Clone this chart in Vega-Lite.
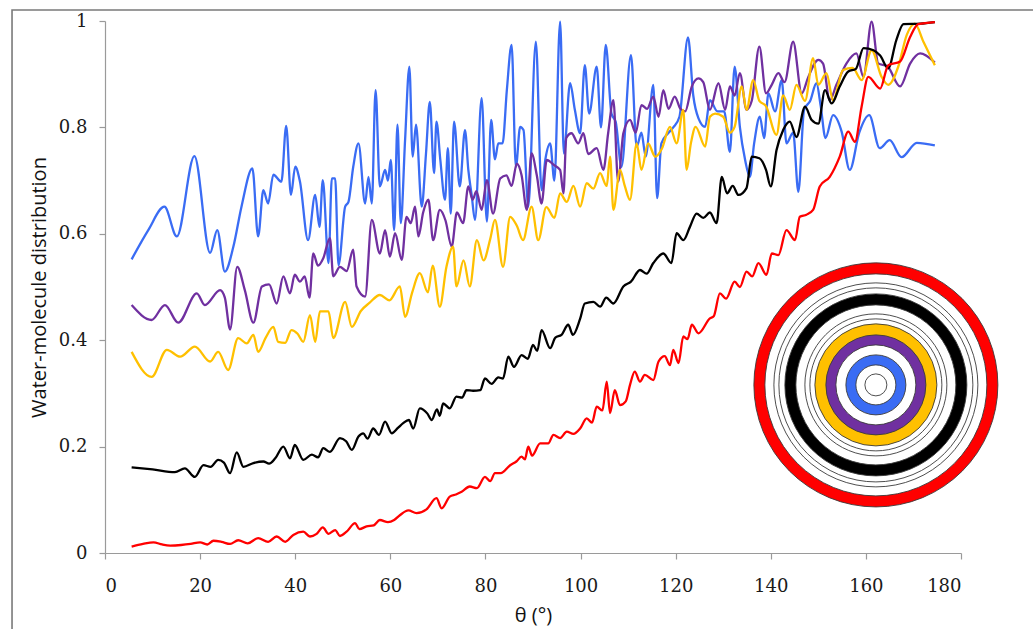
{
 "$schema": "https://vega.github.io/schema/vega-lite/v6.json",
 "width": 856, "height": 532,
 "autosize": {"type": "none"},
 "padding": {"left": 105, "top": 21, "right": 72, "bottom": 76},
 "background": "white",
 "config": {
  "view": {"stroke": null},
  "axis": {"grid": false, "domainColor": "#9a9a9a", "tickColor": "#9a9a9a", "domainWidth": 1.2, "tickWidth": 1.2, "tickSize": 6,
           "labelFont": "DejaVu Serif", "labelFontSize": 18, "labelColor": "#1a1a1a",
           "titleFont": "Open Sans", "titleFontSize": 20, "titleFontWeight": "normal", "titleColor": "#111"},
  "axisX": {"labelPadding": 18, "titlePadding": 10, "titleFontSize": 20},
  "axisY": {"labelPadding": 12, "titlePadding": 9}
 },
 "layer": [
  {
   "data": {"values": [{"frame": "outer border"}]},
   "mark": {"type": "rect", "fill": "white", "fillOpacity": 0, "stroke": "#7a7a7a", "strokeWidth": 1.6},
   "encoding": {
    "x": {"datum": -19.55, "type": "quantitative", "scale": {"domain": [0, 180]}},
    "x2": {"datum": 197},
    "y": {"datum": 1.0207, "type": "quantitative", "scale": {"domain": [0, 1]}},
    "y2": {"datum": -0.17}
   }
  },
  {
   "data": {"values": [
{"s":"ring1","x":5.6,"y":0.552},{"s":"ring1","x":9.1,"y":0.607},{"s":"ring1","x":12.5,"y":0.651},{"s":"ring1","x":15.1,"y":0.595},{"s":"ring1","x":18.8,"y":0.746},{"s":"ring1","x":22.1,"y":0.564},{"s":"ring1","x":23.6,"y":0.607},{"s":"ring1","x":25.2,"y":0.529},{"s":"ring1","x":27.0,"y":0.576},{"s":"ring1","x":28.7,"y":0.651},{"s":"ring1","x":31.0,"y":0.723},{"s":"ring1","x":32.2,"y":0.595},{"s":"ring1","x":33.3,"y":0.682},{"s":"ring1","x":34.3,"y":0.657},{"s":"ring1","x":35.4,"y":0.711},{"s":"ring1","x":37.1,"y":0.698},{"s":"ring1","x":38.1,"y":0.803},{"s":"ring1","x":39.1,"y":0.673},{"s":"ring1","x":40.0,"y":0.726},{"s":"ring1","x":41.0,"y":0.698},{"s":"ring1","x":42.7,"y":0.588},{"s":"ring1","x":44.2,"y":0.673},{"s":"ring1","x":45.1,"y":0.613},{"s":"ring1","x":45.8,"y":0.701},{"s":"ring1","x":47.0,"y":0.545},{"s":"ring1","x":47.7,"y":0.704},{"s":"ring1","x":48.4,"y":0.704},{"s":"ring1","x":49.1,"y":0.541},{"s":"ring1","x":50.5,"y":0.651},{"s":"ring1","x":51.2,"y":0.660},{"s":"ring1","x":52.2,"y":0.726},{"s":"ring1","x":53.3,"y":0.770},{"s":"ring1","x":54.7,"y":0.657},{"s":"ring1","x":55.4,"y":0.707},{"s":"ring1","x":56.1,"y":0.657},{"s":"ring1","x":56.9,"y":0.870},{"s":"ring1","x":57.8,"y":0.689},{"s":"ring1","x":58.9,"y":0.720},{"s":"ring1","x":59.5,"y":0.700},{"s":"ring1","x":60.1,"y":0.739},{"s":"ring1","x":60.8,"y":0.607},{"s":"ring1","x":61.5,"y":0.805},{"s":"ring1","x":62.2,"y":0.620},{"s":"ring1","x":63.1,"y":0.776},{"s":"ring1","x":64.0,"y":0.914},{"s":"ring1","x":64.7,"y":0.745},{"s":"ring1","x":65.4,"y":0.805},{"s":"ring1","x":66.6,"y":0.651},{"s":"ring1","x":67.5,"y":0.751},{"s":"ring1","x":68.3,"y":0.848},{"s":"ring1","x":69.2,"y":0.714},{"s":"ring1","x":69.7,"y":0.811},{"s":"ring1","x":70.5,"y":0.740},{"s":"ring1","x":71.5,"y":0.664},{"s":"ring1","x":72.1,"y":0.761},{"s":"ring1","x":72.7,"y":0.638},{"s":"ring1","x":73.4,"y":0.811},{"s":"ring1","x":74.6,"y":0.689},{"s":"ring1","x":75.7,"y":0.795},{"s":"ring1","x":76.4,"y":0.720},{"s":"ring1","x":77.1,"y":0.673},{"s":"ring1","x":77.8,"y":0.626},{"s":"ring1","x":79.2,"y":0.855},{"s":"ring1","x":80.3,"y":0.623},{"s":"ring1","x":81.2,"y":0.814},{"s":"ring1","x":82.0,"y":0.740},{"s":"ring1","x":82.7,"y":0.770},{"s":"ring1","x":83.6,"y":0.770},{"s":"ring1","x":84.5,"y":0.870},{"s":"ring1","x":85.5,"y":0.955},{"s":"ring1","x":86.4,"y":0.726},{"s":"ring1","x":87.3,"y":0.801},{"s":"ring1","x":88.0,"y":0.795},{"s":"ring1","x":89.0,"y":0.651},{"s":"ring1","x":90.6,"y":0.961},{"s":"ring1","x":91.8,"y":0.682},{"s":"ring1","x":92.6,"y":0.740},{"s":"ring1","x":93.6,"y":0.770},{"s":"ring1","x":94.5,"y":0.700},{"s":"ring1","x":95.7,"y":0.999},{"s":"ring1","x":96.5,"y":0.751},{"s":"ring1","x":97.8,"y":0.883},{"s":"ring1","x":98.8,"y":0.833},{"s":"ring1","x":99.9,"y":0.789},{"s":"ring1","x":100.9,"y":0.917},{"s":"ring1","x":101.8,"y":0.826},{"s":"ring1","x":103.4,"y":0.914},{"s":"ring1","x":104.3,"y":0.800},{"s":"ring1","x":105.3,"y":0.955},{"s":"ring1","x":106.5,"y":0.826},{"s":"ring1","x":107.4,"y":0.810},{"s":"ring1","x":108.6,"y":0.726},{"s":"ring1","x":110.6,"y":0.936},{"s":"ring1","x":111.8,"y":0.764},{"s":"ring1","x":112.8,"y":0.790},{"s":"ring1","x":113.7,"y":0.745},{"s":"ring1","x":115.3,"y":0.880},{"s":"ring1","x":116.1,"y":0.667},{"s":"ring1","x":117.0,"y":0.770},{"s":"ring1","x":118.4,"y":0.789},{"s":"ring1","x":119.5,"y":0.800},{"s":"ring1","x":120.8,"y":0.820},{"s":"ring1","x":122.6,"y":0.969},{"s":"ring1","x":123.7,"y":0.860},{"s":"ring1","x":124.8,"y":0.817},{"s":"ring1","x":126.2,"y":0.801},{"s":"ring1","x":127.2,"y":0.851},{"s":"ring1","x":128.8,"y":0.830},{"s":"ring1","x":130.2,"y":0.830},{"s":"ring1","x":131.4,"y":0.754},{"s":"ring1","x":132.4,"y":0.914},{"s":"ring1","x":133.5,"y":0.801},{"s":"ring1","x":134.6,"y":0.739},{"s":"ring1","x":135.6,"y":0.707},{"s":"ring1","x":136.5,"y":0.770},{"s":"ring1","x":137.7,"y":0.820},{"s":"ring1","x":138.6,"y":0.780},{"s":"ring1","x":139.5,"y":0.864},{"s":"ring1","x":140.9,"y":0.830},{"s":"ring1","x":142.3,"y":0.889},{"s":"ring1","x":143.3,"y":0.770},{"s":"ring1","x":144.7,"y":0.790},{"s":"ring1","x":145.8,"y":0.679},{"s":"ring1","x":147.0,"y":0.833},{"s":"ring1","x":148.3,"y":0.850},{"s":"ring1","x":149.6,"y":0.883},{"s":"ring1","x":150.5,"y":0.840},{"s":"ring1","x":151.5,"y":0.780},{"s":"ring1","x":153.1,"y":0.823},{"s":"ring1","x":154.9,"y":0.792},{"s":"ring1","x":156.6,"y":0.720},{"s":"ring1","x":158.6,"y":0.790},{"s":"ring1","x":160.7,"y":0.823},{"s":"ring1","x":162.9,"y":0.761},{"s":"ring1","x":165.0,"y":0.776},{"s":"ring1","x":167.5,"y":0.744},{"s":"ring1","x":170.7,"y":0.771},{"s":"ring1","x":174.5,"y":0.766},
{"s":"ring2","x":5.6,"y":0.466},{"s":"ring2","x":9.8,"y":0.438},{"s":"ring2","x":12.6,"y":0.466},{"s":"ring2","x":15.4,"y":0.433},{"s":"ring2","x":19.3,"y":0.488},{"s":"ring2","x":21.0,"y":0.466},{"s":"ring2","x":24.2,"y":0.494},{"s":"ring2","x":25.2,"y":0.480},{"s":"ring2","x":26.3,"y":0.420},{"s":"ring2","x":27.8,"y":0.538},{"s":"ring2","x":29.4,"y":0.494},{"s":"ring2","x":31.2,"y":0.433},{"s":"ring2","x":33.0,"y":0.501},{"s":"ring2","x":34.5,"y":0.505},{"s":"ring2","x":36.1,"y":0.469},{"s":"ring2","x":37.5,"y":0.520},{"s":"ring2","x":38.9,"y":0.488},{"s":"ring2","x":39.9,"y":0.523},{"s":"ring2","x":41.0,"y":0.510},{"s":"ring2","x":42.0,"y":0.520},{"s":"ring2","x":43.0,"y":0.480},{"s":"ring2","x":43.8,"y":0.563},{"s":"ring2","x":44.8,"y":0.540},{"s":"ring2","x":45.9,"y":0.554},{"s":"ring2","x":47.3,"y":0.592},{"s":"ring2","x":48.0,"y":0.520},{"s":"ring2","x":49.4,"y":0.538},{"s":"ring2","x":50.8,"y":0.530},{"s":"ring2","x":52.2,"y":0.570},{"s":"ring2","x":52.9,"y":0.501},{"s":"ring2","x":54.7,"y":0.482},{"s":"ring2","x":56.1,"y":0.626},{"s":"ring2","x":57.8,"y":0.563},{"s":"ring2","x":58.9,"y":0.607},{"s":"ring2","x":59.9,"y":0.557},{"s":"ring2","x":61.0,"y":0.601},{"s":"ring2","x":62.4,"y":0.551},{"s":"ring2","x":63.4,"y":0.632},{"s":"ring2","x":64.3,"y":0.620},{"s":"ring2","x":65.2,"y":0.651},{"s":"ring2","x":65.9,"y":0.595},{"s":"ring2","x":66.9,"y":0.640},{"s":"ring2","x":68.0,"y":0.664},{"s":"ring2","x":69.0,"y":0.588},{"s":"ring2","x":70.4,"y":0.645},{"s":"ring2","x":71.6,"y":0.625},{"s":"ring2","x":72.9,"y":0.576},{"s":"ring2","x":74.0,"y":0.640},{"s":"ring2","x":75.3,"y":0.620},{"s":"ring2","x":76.4,"y":0.689},{"s":"ring2","x":77.3,"y":0.664},{"s":"ring2","x":78.1,"y":0.680},{"s":"ring2","x":79.2,"y":0.645},{"s":"ring2","x":80.3,"y":0.701},{"s":"ring2","x":81.6,"y":0.638},{"s":"ring2","x":83.1,"y":0.704},{"s":"ring2","x":84.4,"y":0.710},{"s":"ring2","x":85.5,"y":0.690},{"s":"ring2","x":86.6,"y":0.732},{"s":"ring2","x":87.6,"y":0.710},{"s":"ring2","x":88.7,"y":0.645},{"s":"ring2","x":89.7,"y":0.751},{"s":"ring2","x":90.8,"y":0.710},{"s":"ring2","x":91.8,"y":0.657},{"s":"ring2","x":92.9,"y":0.739},{"s":"ring2","x":94.3,"y":0.730},{"s":"ring2","x":95.7,"y":0.720},{"s":"ring2","x":96.4,"y":0.676},{"s":"ring2","x":97.0,"y":0.780},{"s":"ring2","x":98.1,"y":0.789},{"s":"ring2","x":99.5,"y":0.770},{"s":"ring2","x":100.6,"y":0.789},{"s":"ring2","x":101.6,"y":0.750},{"s":"ring2","x":103.4,"y":0.761},{"s":"ring2","x":104.8,"y":0.720},{"s":"ring2","x":105.8,"y":0.789},{"s":"ring2","x":106.9,"y":0.851},{"s":"ring2","x":107.9,"y":0.698},{"s":"ring2","x":109.0,"y":0.789},{"s":"ring2","x":110.4,"y":0.814},{"s":"ring2","x":111.6,"y":0.790},{"s":"ring2","x":112.8,"y":0.842},{"s":"ring2","x":114.0,"y":0.835},{"s":"ring2","x":115.3,"y":0.858},{"s":"ring2","x":116.4,"y":0.820},{"s":"ring2","x":117.4,"y":0.870},{"s":"ring2","x":118.5,"y":0.835},{"s":"ring2","x":119.8,"y":0.858},{"s":"ring2","x":121.0,"y":0.835},{"s":"ring2","x":122.0,"y":0.830},{"s":"ring2","x":123.4,"y":0.877},{"s":"ring2","x":124.8,"y":0.892},{"s":"ring2","x":125.8,"y":0.885},{"s":"ring2","x":127.2,"y":0.833},{"s":"ring2","x":129.0,"y":0.883},{"s":"ring2","x":130.4,"y":0.833},{"s":"ring2","x":131.4,"y":0.877},{"s":"ring2","x":132.4,"y":0.860},{"s":"ring2","x":133.5,"y":0.902},{"s":"ring2","x":134.9,"y":0.833},{"s":"ring2","x":136.0,"y":0.850},{"s":"ring2","x":137.6,"y":0.952},{"s":"ring2","x":139.0,"y":0.864},{"s":"ring2","x":140.2,"y":0.880},{"s":"ring2","x":141.6,"y":0.902},{"s":"ring2","x":142.9,"y":0.885},{"s":"ring2","x":144.7,"y":0.961},{"s":"ring2","x":146.5,"y":0.864},{"s":"ring2","x":147.9,"y":0.895},{"s":"ring2","x":150.0,"y":0.927},{"s":"ring2","x":151.0,"y":0.920},{"s":"ring2","x":152.4,"y":0.851},{"s":"ring2","x":153.8,"y":0.880},{"s":"ring2","x":155.9,"y":0.920},{"s":"ring2","x":158.0,"y":0.939},{"s":"ring2","x":159.5,"y":0.895},{"s":"ring2","x":161.2,"y":0.999},{"s":"ring2","x":162.6,"y":0.920},{"s":"ring2","x":164.5,"y":0.915},{"s":"ring2","x":167.2,"y":0.877},{"s":"ring2","x":169.3,"y":0.920},{"s":"ring2","x":171.4,"y":0.939},{"s":"ring2","x":174.5,"y":0.922},
{"s":"ring3","x":5.6,"y":0.378},{"s":"ring3","x":9.8,"y":0.331},{"s":"ring3","x":13.0,"y":0.382},{"s":"ring3","x":15.8,"y":0.369},{"s":"ring3","x":18.9,"y":0.388},{"s":"ring3","x":22.1,"y":0.360},{"s":"ring3","x":23.8,"y":0.378},{"s":"ring3","x":25.9,"y":0.344},{"s":"ring3","x":28.0,"y":0.404},{"s":"ring3","x":29.8,"y":0.394},{"s":"ring3","x":31.2,"y":0.410},{"s":"ring3","x":32.2,"y":0.378},{"s":"ring3","x":33.8,"y":0.405},{"s":"ring3","x":35.4,"y":0.425},{"s":"ring3","x":36.4,"y":0.397},{"s":"ring3","x":37.9,"y":0.395},{"s":"ring3","x":39.2,"y":0.419},{"s":"ring3","x":40.5,"y":0.412},{"s":"ring3","x":41.7,"y":0.397},{"s":"ring3","x":43.1,"y":0.447},{"s":"ring3","x":44.2,"y":0.397},{"s":"ring3","x":45.2,"y":0.454},{"s":"ring3","x":47.0,"y":0.454},{"s":"ring3","x":48.0,"y":0.404},{"s":"ring3","x":50.5,"y":0.472},{"s":"ring3","x":51.9,"y":0.425},{"s":"ring3","x":53.8,"y":0.455},{"s":"ring3","x":55.6,"y":0.470},{"s":"ring3","x":57.8,"y":0.485},{"s":"ring3","x":59.8,"y":0.475},{"s":"ring3","x":62.0,"y":0.501},{"s":"ring3","x":63.1,"y":0.444},{"s":"ring3","x":64.6,"y":0.490},{"s":"ring3","x":66.2,"y":0.526},{"s":"ring3","x":67.9,"y":0.490},{"s":"ring3","x":68.9,"y":0.540},{"s":"ring3","x":70.4,"y":0.463},{"s":"ring3","x":71.8,"y":0.538},{"s":"ring3","x":73.2,"y":0.576},{"s":"ring3","x":73.9,"y":0.501},{"s":"ring3","x":75.4,"y":0.550},{"s":"ring3","x":76.7,"y":0.501},{"s":"ring3","x":78.2,"y":0.588},{"s":"ring3","x":79.6,"y":0.550},{"s":"ring3","x":81.0,"y":0.590},{"s":"ring3","x":82.0,"y":0.626},{"s":"ring3","x":83.7,"y":0.538},{"s":"ring3","x":85.2,"y":0.632},{"s":"ring3","x":86.6,"y":0.615},{"s":"ring3","x":87.9,"y":0.588},{"s":"ring3","x":89.7,"y":0.651},{"s":"ring3","x":91.1,"y":0.588},{"s":"ring3","x":92.8,"y":0.650},{"s":"ring3","x":94.5,"y":0.630},{"s":"ring3","x":95.7,"y":0.676},{"s":"ring3","x":97.1,"y":0.660},{"s":"ring3","x":98.5,"y":0.690},{"s":"ring3","x":99.9,"y":0.651},{"s":"ring3","x":101.3,"y":0.695},{"s":"ring3","x":102.7,"y":0.685},{"s":"ring3","x":104.1,"y":0.714},{"s":"ring3","x":105.5,"y":0.690},{"s":"ring3","x":106.2,"y":0.745},{"s":"ring3","x":106.9,"y":0.645},{"s":"ring3","x":108.3,"y":0.720},{"s":"ring3","x":109.3,"y":0.690},{"s":"ring3","x":110.4,"y":0.664},{"s":"ring3","x":111.8,"y":0.770},{"s":"ring3","x":112.8,"y":0.720},{"s":"ring3","x":114.2,"y":0.770},{"s":"ring3","x":115.7,"y":0.745},{"s":"ring3","x":117.1,"y":0.760},{"s":"ring3","x":118.8,"y":0.801},{"s":"ring3","x":120.2,"y":0.770},{"s":"ring3","x":121.6,"y":0.833},{"s":"ring3","x":122.3,"y":0.720},{"s":"ring3","x":123.2,"y":0.770},{"s":"ring3","x":124.2,"y":0.801},{"s":"ring3","x":126.2,"y":0.764},{"s":"ring3","x":127.2,"y":0.820},{"s":"ring3","x":128.3,"y":0.826},{"s":"ring3","x":130.0,"y":0.820},{"s":"ring3","x":131.4,"y":0.790},{"s":"ring3","x":132.4,"y":0.801},{"s":"ring3","x":133.9,"y":0.877},{"s":"ring3","x":134.9,"y":0.833},{"s":"ring3","x":136.3,"y":0.889},{"s":"ring3","x":137.6,"y":0.850},{"s":"ring3","x":139.0,"y":0.840},{"s":"ring3","x":141.2,"y":0.786},{"s":"ring3","x":142.6,"y":0.860},{"s":"ring3","x":144.0,"y":0.833},{"s":"ring3","x":145.4,"y":0.880},{"s":"ring3","x":147.2,"y":0.850},{"s":"ring3","x":148.9,"y":0.930},{"s":"ring3","x":150.0,"y":0.880},{"s":"ring3","x":151.7,"y":0.902},{"s":"ring3","x":153.1,"y":0.851},{"s":"ring3","x":155.2,"y":0.908},{"s":"ring3","x":157.2,"y":0.912},{"s":"ring3","x":159.1,"y":0.889},{"s":"ring3","x":161.2,"y":0.945},{"s":"ring3","x":163.3,"y":0.895},{"s":"ring3","x":164.7,"y":0.880},{"s":"ring3","x":166.8,"y":0.914},{"s":"ring3","x":168.6,"y":0.974},{"s":"ring3","x":170.3,"y":0.995},{"s":"ring3","x":172.1,"y":0.961},{"s":"ring3","x":174.5,"y":0.917},
{"s":"ring4","x":5.6,"y":0.161},{"s":"ring4","x":10.0,"y":0.157},{"s":"ring4","x":14.7,"y":0.152},{"s":"ring4","x":16.8,"y":0.159},{"s":"ring4","x":18.9,"y":0.143},{"s":"ring4","x":20.7,"y":0.165},{"s":"ring4","x":22.2,"y":0.162},{"s":"ring4","x":23.8,"y":0.175},{"s":"ring4","x":25.0,"y":0.170},{"s":"ring4","x":26.3,"y":0.150},{"s":"ring4","x":27.7,"y":0.189},{"s":"ring4","x":29.1,"y":0.162},{"s":"ring4","x":31.2,"y":0.169},{"s":"ring4","x":33.3,"y":0.172},{"s":"ring4","x":34.5,"y":0.168},{"s":"ring4","x":35.8,"y":0.178},{"s":"ring4","x":37.5,"y":0.200},{"s":"ring4","x":38.9,"y":0.178},{"s":"ring4","x":39.9,"y":0.203},{"s":"ring4","x":41.7,"y":0.175},{"s":"ring4","x":43.5,"y":0.185},{"s":"ring4","x":44.8,"y":0.180},{"s":"ring4","x":45.9,"y":0.197},{"s":"ring4","x":47.3,"y":0.190},{"s":"ring4","x":49.4,"y":0.216},{"s":"ring4","x":50.7,"y":0.210},{"s":"ring4","x":51.9,"y":0.194},{"s":"ring4","x":53.3,"y":0.219},{"s":"ring4","x":54.3,"y":0.225},{"s":"ring4","x":55.2,"y":0.215},{"s":"ring4","x":56.4,"y":0.234},{"s":"ring4","x":57.6,"y":0.222},{"s":"ring4","x":58.9,"y":0.247},{"s":"ring4","x":60.3,"y":0.225},{"s":"ring4","x":61.6,"y":0.235},{"s":"ring4","x":62.7,"y":0.244},{"s":"ring4","x":63.9,"y":0.250},{"s":"ring4","x":64.8,"y":0.234},{"s":"ring4","x":66.2,"y":0.272},{"s":"ring4","x":67.8,"y":0.262},{"s":"ring4","x":68.7,"y":0.250},{"s":"ring4","x":69.8,"y":0.270},{"s":"ring4","x":70.4,"y":0.258},{"s":"ring4","x":71.1,"y":0.281},{"s":"ring4","x":72.5,"y":0.272},{"s":"ring4","x":73.9,"y":0.294},{"s":"ring4","x":75.1,"y":0.292},{"s":"ring4","x":76.0,"y":0.306},{"s":"ring4","x":77.4,"y":0.305},{"s":"ring4","x":78.9,"y":0.306},{"s":"ring4","x":79.9,"y":0.328},{"s":"ring4","x":81.3,"y":0.318},{"s":"ring4","x":82.7,"y":0.330},{"s":"ring4","x":83.7,"y":0.328},{"s":"ring4","x":84.8,"y":0.369},{"s":"ring4","x":86.0,"y":0.350},{"s":"ring4","x":87.6,"y":0.372},{"s":"ring4","x":88.9,"y":0.365},{"s":"ring4","x":90.0,"y":0.391},{"s":"ring4","x":90.9,"y":0.380},{"s":"ring4","x":91.8,"y":0.419},{"s":"ring4","x":93.6,"y":0.385},{"s":"ring4","x":94.7,"y":0.405},{"s":"ring4","x":96.0,"y":0.410},{"s":"ring4","x":97.4,"y":0.429},{"s":"ring4","x":98.4,"y":0.410},{"s":"ring4","x":99.9,"y":0.440},{"s":"ring4","x":100.9,"y":0.469},{"s":"ring4","x":102.7,"y":0.472},{"s":"ring4","x":104.1,"y":0.463},{"s":"ring4","x":105.4,"y":0.480},{"s":"ring4","x":106.9,"y":0.469},{"s":"ring4","x":109.0,"y":0.501},{"s":"ring4","x":110.6,"y":0.510},{"s":"ring4","x":112.5,"y":0.532},{"s":"ring4","x":113.9,"y":0.525},{"s":"ring4","x":115.3,"y":0.545},{"s":"ring4","x":117.4,"y":0.563},{"s":"ring4","x":119.1,"y":0.545},{"s":"ring4","x":120.2,"y":0.601},{"s":"ring4","x":121.6,"y":0.588},{"s":"ring4","x":123.0,"y":0.613},{"s":"ring4","x":124.4,"y":0.638},{"s":"ring4","x":125.8,"y":0.630},{"s":"ring4","x":127.2,"y":0.640},{"s":"ring4","x":128.6,"y":0.620},{"s":"ring4","x":129.7,"y":0.707},{"s":"ring4","x":130.8,"y":0.676},{"s":"ring4","x":132.0,"y":0.690},{"s":"ring4","x":133.2,"y":0.673},{"s":"ring4","x":134.9,"y":0.686},{"s":"ring4","x":136.0,"y":0.745},{"s":"ring4","x":137.6,"y":0.742},{"s":"ring4","x":139.0,"y":0.720},{"s":"ring4","x":140.0,"y":0.689},{"s":"ring4","x":141.2,"y":0.757},{"s":"ring4","x":142.6,"y":0.795},{"s":"ring4","x":144.0,"y":0.811},{"s":"ring4","x":145.4,"y":0.782},{"s":"ring4","x":147.2,"y":0.839},{"s":"ring4","x":148.6,"y":0.814},{"s":"ring4","x":150.0,"y":0.807},{"s":"ring4","x":151.4,"y":0.870},{"s":"ring4","x":152.8,"y":0.845},{"s":"ring4","x":154.5,"y":0.877},{"s":"ring4","x":156.3,"y":0.905},{"s":"ring4","x":157.9,"y":0.910},{"s":"ring4","x":159.5,"y":0.949},{"s":"ring4","x":161.6,"y":0.945},{"s":"ring4","x":163.0,"y":0.935},{"s":"ring4","x":164.7,"y":0.911},{"s":"ring4","x":166.4,"y":0.964},{"s":"ring4","x":167.9,"y":0.994},{"s":"ring4","x":171.4,"y":0.995},{"s":"ring4","x":174.5,"y":0.998},
{"s":"ring5","x":5.6,"y":0.012},{"s":"ring5","x":8.0,"y":0.017},{"s":"ring5","x":10.2,"y":0.020},{"s":"ring5","x":12.0,"y":0.016},{"s":"ring5","x":13.7,"y":0.014},{"s":"ring5","x":16.0,"y":0.015},{"s":"ring5","x":18.0,"y":0.017},{"s":"ring5","x":20.0,"y":0.020},{"s":"ring5","x":21.5,"y":0.016},{"s":"ring5","x":22.8,"y":0.023},{"s":"ring5","x":24.5,"y":0.021},{"s":"ring5","x":26.3,"y":0.017},{"s":"ring5","x":28.0,"y":0.024},{"s":"ring5","x":30.0,"y":0.018},{"s":"ring5","x":32.2,"y":0.028},{"s":"ring5","x":34.3,"y":0.021},{"s":"ring5","x":36.1,"y":0.031},{"s":"ring5","x":37.9,"y":0.021},{"s":"ring5","x":39.6,"y":0.034},{"s":"ring5","x":41.7,"y":0.040},{"s":"ring5","x":43.1,"y":0.031},{"s":"ring5","x":44.5,"y":0.036},{"s":"ring5","x":45.8,"y":0.048},{"s":"ring5","x":47.0,"y":0.036},{"s":"ring5","x":48.4,"y":0.043},{"s":"ring5","x":49.4,"y":0.032},{"s":"ring5","x":50.8,"y":0.040},{"s":"ring5","x":52.6,"y":0.056},{"s":"ring5","x":53.5,"y":0.045},{"s":"ring5","x":55.0,"y":0.050},{"s":"ring5","x":56.5,"y":0.052},{"s":"ring5","x":57.8,"y":0.062},{"s":"ring5","x":59.5,"y":0.058},{"s":"ring5","x":60.8,"y":0.062},{"s":"ring5","x":62.0,"y":0.071},{"s":"ring5","x":63.8,"y":0.080},{"s":"ring5","x":65.5,"y":0.075},{"s":"ring5","x":67.6,"y":0.082},{"s":"ring5","x":69.7,"y":0.103},{"s":"ring5","x":70.8,"y":0.084},{"s":"ring5","x":72.5,"y":0.106},{"s":"ring5","x":73.8,"y":0.110},{"s":"ring5","x":75.0,"y":0.115},{"s":"ring5","x":76.7,"y":0.125},{"s":"ring5","x":78.2,"y":0.122},{"s":"ring5","x":79.9,"y":0.143},{"s":"ring5","x":81.0,"y":0.135},{"s":"ring5","x":82.0,"y":0.150},{"s":"ring5","x":83.2,"y":0.150},{"s":"ring5","x":85.2,"y":0.165},{"s":"ring5","x":86.5,"y":0.172},{"s":"ring5","x":87.6,"y":0.181},{"s":"ring5","x":88.3,"y":0.176},{"s":"ring5","x":89.0,"y":0.200},{"s":"ring5","x":89.8,"y":0.183},{"s":"ring5","x":91.5,"y":0.206},{"s":"ring5","x":93.2,"y":0.206},{"s":"ring5","x":94.3,"y":0.222},{"s":"ring5","x":95.7,"y":0.216},{"s":"ring5","x":97.1,"y":0.228},{"s":"ring5","x":98.5,"y":0.224},{"s":"ring5","x":99.9,"y":0.234},{"s":"ring5","x":101.3,"y":0.253},{"s":"ring5","x":102.4,"y":0.245},{"s":"ring5","x":103.4,"y":0.275},{"s":"ring5","x":104.6,"y":0.268},{"s":"ring5","x":105.5,"y":0.322},{"s":"ring5","x":106.2,"y":0.263},{"s":"ring5","x":107.2,"y":0.306},{"s":"ring5","x":108.3,"y":0.278},{"s":"ring5","x":109.5,"y":0.285},{"s":"ring5","x":110.4,"y":0.316},{"s":"ring5","x":111.4,"y":0.341},{"s":"ring5","x":112.5,"y":0.322},{"s":"ring5","x":113.5,"y":0.335},{"s":"ring5","x":115.3,"y":0.325},{"s":"ring5","x":116.4,"y":0.360},{"s":"ring5","x":117.7,"y":0.370},{"s":"ring5","x":118.8,"y":0.353},{"s":"ring5","x":119.5,"y":0.382},{"s":"ring5","x":120.6,"y":0.357},{"s":"ring5","x":121.6,"y":0.407},{"s":"ring5","x":122.5,"y":0.402},{"s":"ring5","x":123.4,"y":0.429},{"s":"ring5","x":124.8,"y":0.413},{"s":"ring5","x":127.2,"y":0.441},{"s":"ring5","x":128.0,"y":0.445},{"s":"ring5","x":129.3,"y":0.488},{"s":"ring5","x":130.6,"y":0.478},{"s":"ring5","x":132.4,"y":0.510},{"s":"ring5","x":133.5,"y":0.500},{"s":"ring5","x":134.9,"y":0.529},{"s":"ring5","x":136.1,"y":0.520},{"s":"ring5","x":137.4,"y":0.545},{"s":"ring5","x":139.1,"y":0.523},{"s":"ring5","x":140.2,"y":0.563},{"s":"ring5","x":141.6,"y":0.560},{"s":"ring5","x":143.3,"y":0.607},{"s":"ring5","x":145.1,"y":0.588},{"s":"ring5","x":146.1,"y":0.632},{"s":"ring5","x":147.5,"y":0.636},{"s":"ring5","x":148.9,"y":0.645},{"s":"ring5","x":150.3,"y":0.689},{"s":"ring5","x":152.4,"y":0.707},{"s":"ring5","x":154.5,"y":0.745},{"s":"ring5","x":156.3,"y":0.792},{"s":"ring5","x":157.7,"y":0.773},{"s":"ring5","x":159.1,"y":0.839},{"s":"ring5","x":160.5,"y":0.895},{"s":"ring5","x":163.0,"y":0.873},{"s":"ring5","x":164.7,"y":0.917},{"s":"ring5","x":167.2,"y":0.924},{"s":"ring5","x":169.3,"y":0.970},{"s":"ring5","x":171.0,"y":0.994},{"s":"ring5","x":174.5,"y":0.998}
   ]},
   "mark": {"type": "line", "interpolate": "monotone", "strokeWidth": 2.3},
   "encoding": {
    "x": {"field": "x", "type": "quantitative", "scale": {"domain": [0, 180]},
          "axis": {"values": [0, 20, 40, 60, 80, 100, 120, 140, 160, 180], "title": "θ (°)"}},
    "y": {"field": "y", "type": "quantitative", "scale": {"domain": [0, 1]},
          "axis": {"values": [0, 0.2, 0.4, 0.6, 0.8, 1], "format": ".1~f", "title": "Water-molecule distribution"}},
    "stroke": {"field": "s", "type": "nominal",
               "scale": {"domain": ["ring1", "ring2", "ring3", "ring4", "ring5"], "range": ["#3a6cf4", "#7030a0", "#ffc000", "#000000", "#ff0000"]},
               "legend": null}
   }
  },
  {
   "data": {"values": [
    {"disk": "red band"}, {"disk": "gap a"}, {"disk": "thin a"}, {"disk": "thin b"}, {"disk": "black band"}, {"disk": "gap b"}, {"disk": "thin c"}, {"disk": "thin d"}, {"disk": "yellow band"}, {"disk": "purple band"}, {"disk": "gap c"}, {"disk": "blue band"}, {"disk": "gap d"}, {"disk": "core"}
   ]},
   "mark": {"type": "point", "shape": "circle", "filled": true, "opacity": 1, "stroke": "#3a3a3a", "strokeWidth": 0.9},
   "encoding": {
    "x": {"datum": 162.1, "type": "quantitative"},
    "y": {"datum": 0.316, "type": "quantitative"},
    "size": {"field": "disk", "type": "ordinal", "legend": null,
             "scale": {"type": "ordinal",
                       "domain": ["red band", "gap a", "thin a", "thin b", "black band", "gap b", "thin c", "thin d", "yellow band", "purple band", "gap c", "blue band", "gap d", "core"],
                       "range": [59536, 49284, 41616, 37636, 33124, 25600, 20164, 17424, 14884, 10000, 6400, 3600, 1600, 484]}},
    "fill": {"field": "disk", "type": "nominal", "legend": null,
             "scale": {"domain": ["red band", "gap a", "thin a", "thin b", "black band", "gap b", "thin c", "thin d", "yellow band", "purple band", "gap c", "blue band", "gap d", "core"],
                       "range": ["#ff0000", "#ffffff", "#ffffff", "#ffffff", "#000000", "#ffffff", "#ffffff", "#ffffff", "#ffc000", "#7030a0", "#ffffff", "#3a6cf4", "#ffffff", "#ffffff"]}}
   }
  }
 ]
}
